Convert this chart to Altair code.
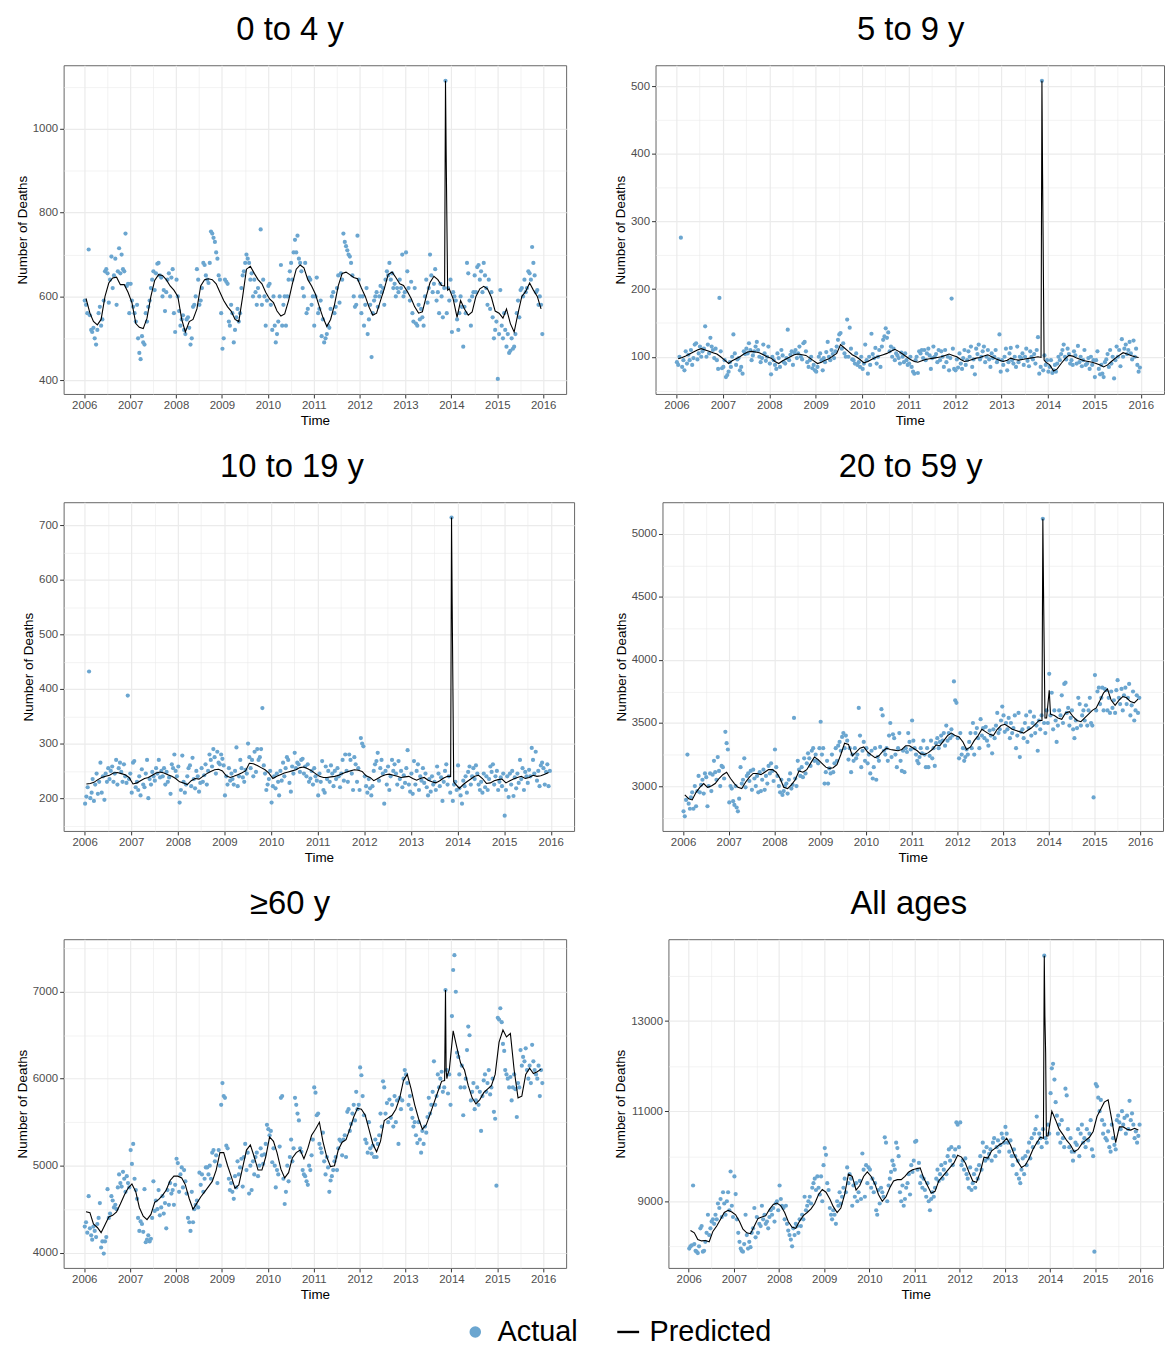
import altair as alt
import pandas as pd

BLUE = "#6BA6D0"
FONT = "Liberation Sans"

TITLES = ["0 to 4 y", "5 to 9 y", "10 to 19 y", "20 to 59 y", "\u226560 y", "All ages"]

# ---------------- Actual weekly deaths (3 readings per month, 2006-2015) ----------------
act_0_4 = [
    590,580,560, 712,555,520, 515,525,500, 485,520,560, 575,530,545, 590,660,665, 655,585,640, 695,620,650, 690,580,660, 715,655,700, 665,660,750, 625,630,560,
    630,590,575, 560,540,580, 500,465,450, 505,490,485, 560,540,575, 590,620,640, 660,615,655, 678,680,650, 645,600,615, 565,610,640, 655,600,645, 665,560,515,
    640,600,565, 530,545,555, 520,510,545, 550,525,485, 500,575,580, 600,665,640, 580,590,620, 680,675,650, 640,632,680, 755,750,740, 730,705,690, 650,640,560,
    475,500,640, 635,630,540, 530,580,560, 490,520,550, 570,540,560, 620,650,660, 680,700,690, 680,640,655, 600,640,610, 580,620,600, 760,580,640, 600,530,590,
    625,630,580, 520,600,530, 490,510,540, 600,675,530, 580,600,530, 600,640,660, 680,640,705, 735,705,745, 690,680,660, 620,600,680, 560,570,645, 640,580,600,
    530,600,645, 560,570,590, 505,545,490, 500,510,530, 525,570,600, 610,560,575, 620,650,585, 655,640,750, 730,720,710, 700,695,680, 650,600,575, 580,745,640,
    600,560,600, 530,580,620, 510,545,580, 455,560,590, 600,610,575, 600,625,610, 620,580,640, 660,650,680, 640,655,620, 630,600,620, 610,640,620, 700,600,610,
    705,660,620, 590,635,560, 540,620,535, 530,580,545, 570,550,530, 600,640,585, 620,700,650, 610,630,665, 590,610,560, 630,600,550, 620,1115,560, 620,590,640,
    515,610,600, 590,545,520, 560,600,575, 480,575,560, 680,655,590, 530,600,610, 650,610,670, 675,640,660, 610,680,650, 620,580,640, 570,610,550, 500,520,540,
    403,510,615, 530,500,560, 520,480,510, 465,470,500, 475,480,510, 560,590,550, 615,620,600, 640,610,620, 660,655,640, 718,680,650, 610,615,580, 600,580,510,
]
act_5_9 = [
    92,88,100, 276,85,95, 80,108,90, 103,95,110, 88,98,118, 120,96,105, 115,100,108, 112,145,100, 118,105,128, 115,110,98, 112,95,82, 187,108,83,
    85,95,70, 73,78,92, 85,100,133, 105,88,96, 98,80,85, 75,108,104, 112,105,120, 110,95,102, 108,115,122, 110,100,92, 98,118,105, 94,100,115,
    90,74,100, 95,88,82, 105,98,85, 110,102,92, 90,98,140, 95,103,108, 88,106,110, 98,105,115, 100,96,120, 122,108,92, 85,95,100, 83,88,80,
    78,85,100, 105,95,80, 98,92,107, 122,100,95, 110,104,98, 108,115,125, 133,135,112, 120,105,100, 155,100,143, 112,96,95, 90,105,88, 92,85,100,
    82,90,118, 95,75,100, 88,134,104, 98,113,90, 100,110,85, 115,125,130, 142,128,136, 108,115,100, 112,95,105, 102,98,90, 106,100,92, 105,95,88,
    90,100,85, 78,75,95, 100,76,108, 105,110,98, 110,95,105, 112,102,82, 98,115,100, 104,92,110, 95,108,100, 85,110,92, 100,80,98, 186,112,82,
    80,96,84, 105,90,82, 98,110,88, 95,108,100, 115,85,96, 74,112,104, 118,96,100, 108,115,92, 100,110,96, 85,105,98, 100,110,92, 96,133,78,
    95,88,100, 112,80,92, 105,113,95, 90,100,85, 115,92,100, 98,105,88, 100,112,94, 86,108,100, 96,104,90, 110,129,75, 85,508,80, 102,88,95,
    78,85,95, 76,80,88, 78,90,100, 95,104,110, 118,100,96, 112,104,90, 95,88,108, 102,90,116, 92,100,86, 95,110,88, 90,98,82, 100,88,95,
    70,95,108, 82,74,88, 75,70,92, 96,104,85, 110,90,100, 68,95,115, 100,110,86, 126,100,112, 118,104,110, 122,105,96, 124,100,112, 88,78,84,
]
act_10_19 = [
    190,203,220, 432,200,210, 235,195,225, 245,208,230, 265,210,240, 197,245,230, 255,235,250, 258,230,245, 270,225,255, 265,248,230, 262,240,228, 388,235,245,
    210,265,268, 220,230,215, 240,205,253, 225,220,245, 270,200,235, 225,248,240, 232,255,245, 270,238,250, 240,255,225, 248,230,238, 208,262,255, 280,250,240,
    258,192,215, 278,230,210, 225,240,255, 260,222,274, 235,218,250, 240,212,228, 255,230,242, 262,225,250, 280,270,258, 290,275,245, 285,265,262, 280,272,260,
    205,240,225, 255,232,245, 235,225,250, 293,222,240, 270,255,238, 230,252,245, 300,275,255, 270,240,285, 248,290,270, 275,290,365, 260,245,215, 225,235,250,
    192,222,240, 218,245,230, 205,250,232, 265,240,255, 275,270,228, 212,258,245, 283,255,265, 262,248,270, 272,245,258, 240,262,230, 236,250,225, 255,240,232,
    205,245,230, 268,215,210, 258,235,250, 230,260,245, 222,250,235, 255,240,220, 245,270,232, 280,250,230, 280,270,245, 215,275,262, 230,255,215, 310,300,295,
    240,222,210, 235,218,205, 222,250,262, 268,283,232, 255,270,245, 190,250,225, 258,215,240, 270,250,262, 245,225,268, 235,250,220, 242,228,255, 288,225,212,
    245,208,268, 225,250,262, 215,240,232, 255,228,245, 220,205,235, 212,240,225, 230,215,258, 245,222,238, 195,230,250, 262,225,240, 210,714,195, 225,230,215,
    260,218,205, 190,232,222, 240,210,248, 258,225,240, 255,235,260, 245,225,215, 230,210,245, 220,240,215, 235,258,248, 262,225,240, 250,215,230, 238,222,245,
    168,215,240, 202,245,225, 250,204,238, 218,245,228, 270,235,255, 215,248,240, 228,252,240, 292,270,245, 285,232,250, 222,260,265, 255,225,248, 262,222,250,
]
act_20_59 = [
    2800,2760,2890, 3250,2860,2820, 2910,2950,2820, 3000,2840,2960, 3080,2950,3010, 3050,2940,3100, 3070,2840,3000, 3100,2960,3090, 3200,3110,3050, 3230,3120,3000, 3160,3150,3060, 3430,3340,3290,
    2870,3000,2980, 2880,2850,3000, 2830,2800,2900, 3150,3020,3050, 3220,2990,3080, 3100,3040,3120, 2970,3130,3060, 3000,3080,2950, 3110,2960,3050, 3130,2970,3080, 3020,3160,3100, 3180,3120,3040,
    3290,3150,3080, 3000,2950,3050, 2930,2960,3000, 3020,2940,3050, 3100,2980,3010, 3540,3060,3000, 3200,3130,3080, 3150,3070,3220, 3100,3180,3260, 3220,3160,3280, 3300,3200,3250, 3200,3180,3300,
    3510,3250,3300, 3020,3110,3200, 3020,3140,3100, 3250,3110,3180, 3300,3200,3320, 3350,3280,3390, 3420,3300,3400, 3360,3210,3300, 3110,3250,3200, 3300,3220,3250, 3620,3400,3150, 3280,3350,3200,
    3300,3180,3250, 3100,3280,3060, 3150,3300,3050, 3230,3200,3310, 3610,3560,3280, 3250,3300,3200, 3400,3500,3230, 3410,3380,3250, 3150,3300,3420, 3200,3120,3280, 3110,3300,3270, 3420,3350,3290,
    3520,3360,3300, 3250,3200,3180, 3230,3300,3260, 3360,3250,3150, 3300,3150,3240, 3360,3220,3300, 3160,3340,3380, 3300,3350,3400, 3360,3420,3320, 3480,3360,3420, 3380,3450,3400, 3830,3680,3660,
    3380,3220,3420, 3250,3300,3200, 3230,3290,3250, 3350,3420,3300, 3500,3250,3420, 3460,3380,3300, 3530,3400,3460, 3380,3470,3360, 3320,3440,3400, 3260,3450,3380, 3480,3580,3420, 3450,3520,3630,
    3560,3430,3500, 3450,3540,3380, 3500,3420,3460, 3560,3300,3400, 3580,3230,3430, 3450,3380,3500, 3560,3350,3460, 3590,3400,3500, 3550,3420,3480, 3280,3520,3450, 3560,5120,3500, 3420,3600,3500,
    3890,3560,3740, 3450,3600,3520, 3350,3480,3600, 3560,3720,3500, 3810,3820,3580, 3620,3480,3540, 3600,3450,3380, 3520,3460,3700, 3650,3480,3560, 3600,3520,3640, 3480,3600,3700, 3500,3480,2910,
    3880,3600,3750, 3780,3650,3700, 3780,3600,3770, 3760,3600,3700, 3580,3750,3620, 3680,3580,3760, 3840,3700,3650, 3770,3600,3720, 3780,3650,3700, 3810,3560,3640, 3750,3520,3600, 3720,3580,3700,
]
act_60 = [
    4300,4350,4230, 4650,4280,4200, 4150,4300,4250, 4180,4330,4400, 4570,4060,4130, 3990,4130,4180, 4730,4400,4450, 4650,4600,4520, 4550,4500,4750, 4900,4800,4760, 4930,4850,4700, 4880,4800,4750,
    5180,5020,5250, 4850,4720,4620, 4400,4250,4360, 4330,4240,4730, 4120,4150,4200, 4130,4160,4400, 4820,4480,4600, 4500,4720,4430, 4520,4650,4450, 4570,4280,4720, 4550,4800,4680, 4720,4550,4780,
    5080,5030,4700, 4900,4980,4750, 4950,4820,4680, 4400,4350,4250, 4700,4350,4500, 4550,4600,4520, 4920,4780,4900, 4700,4850,4980, 4980,4900,5000, 4850,5150,5180, 5050,5120,4800, 5180,5000,5700,
    5950,5800,5780, 5230,5200,4850, 4720,4800,4700, 4620,4880,4750, 5050,4900,4980, 5080,4760,5100, 5250,4950,5150, 4680,5000,4720, 5050,4900,5100, 5150,4880,5000, 5200,5120,5020, 5130,5250,5470,
    5420,5350,5400, 5040,5200,5000, 4750,4950,4900, 5220,5780,5800, 4850,4560,4700, 5000,4820,5100, 5300,5050,5200, 5780,5700,5600, 5520,5200,5160, 4950,4900,4880, 4820,4780,5000, 4950,5120,5300,
    5900,5840,5580, 5600,5250,5200, 5150,5380,5050, 4900,5100,4980, 4700,4830,4880, 4950,5050,5100, 4950,5200,5300, 5280,5120,5300, 5350,5100,5620, 5650,5400,5480, 5600,5700,5520, 5850,5650,5700,
    6130,6040,5800, 5580,5300,5260, 5150,5500,5200, 5140,5230,5100, 5300,5100,5250, 5350,5600,5450, 5970,5900,5600, 5720,5500,5760, 5550,5700,5450, 5800,5500,5750, 5250,5780,5650, 5750,6000,6100,
    6050,5950,5700, 5800,5650,5550, 5450,5500,5350, 5260,5500,5300, 5150,5400,5250, 5450,5380,5560, 5780,5600,5700, 5850,6200,5700, 5800,6050,5900, 6000,6080,5850, 5900,7020,6100, 5830,6050,5700,
    6720,7250,7420, 7000,6300,6250, 6050,5900,6150, 5580,5900,6000, 6330,6600,6500, 5750,5850,5950, 5650,5750,5900, 5700,5850,5400, 5800,5980,6050, 5850,5950,6100, 5820,5900,6000, 5620,5540,4770,
    6700,6680,6810, 6650,6400,6320, 6100,6050,6000, 5900,6020,5750, 5900,6050,5880, 5560,5950,5900, 6330,6150,6250, 6200,6350,6100, 6000,6150,5950, 6390,6200,6100, 6050,6000,6150, 5800,6100,5950,
]
act_all = [
    7950,8000,8020, 9350,8050,7900, 7880,7850,8000, 8400,8450,7880, 7900,8100,8300, 8700,8250,8400, 8550,8600,8500, 8700,8600,8950, 8850,9050,8650, 9200,8950,8700, 9000,9200,8800, 9660,8900,8650,
    9550,9160,8600, 8300,8100,7950, 7900,7880,8050, 8700,8250,7950, 8100,7980,8300, 8400,8850,8200, 8650,8300,8500, 8450,8900,8600, 8700,8500,8550, 8400,8650,8800, 8700,8850,8550, 8950,9000,8800,
    9350,9050,8900, 8850,8600,8900, 8500,8350,8250, 8150,8000,8400, 8250,8500,8450, 8300,8600,8450, 8700,8600,9100, 8800,8900,9000, 9100,8950,9300, 9400,9500,9250, 9550,9300,9150, 9550,9000,9800,
    10180,10030,9400, 9250,8850,8700, 8600,8800,8700, 8500,9000,8900, 9200,8950,9100, 9300,9500,9200, 9750,9400,9600, 9500,8900,9350, 9100,9400,9000, 9200,9450,9050, 10060,9700,9100, 9800,9400,9750,
    9700,9300,9500, 9200,9400,8800, 8700,9250,8950, 9300,9200,9100, 10420,10300,9000, 9350,9500,9650, 9900,9800,9700, 10300,10180,10000, 9200,9000,9350, 8900,9050,9300, 9400,9600,9150, 9800,9650,9900,
    10320,10340,9700, 9850,9400,9550, 9300,9500,9250, 9100,9400,9000, 8800,9050,9200, 9100,9300,9500, 9700,9450,9600, 9800,9500,9700, 9850,9600,10000, 10150,9900,10200, 9800,10000,10150, 10750,10700,10200,
    10750,9800,9900, 9700,9950,9600, 9500,9300,9750, 9250,9400,9600, 9300,9700,9500, 9800,10000,9700, 10300,10100,9900, 10200,9950,10050, 10150,9900,10300, 10400,10000,10200, 10350,10100,10250, 10500,10400,10300,
    10650,10500,10300, 10100,10350,10000, 9800,10150,10000, 9600,9900,9500, 9400,9700,9950, 9600,10000,9800, 10100,10300,9950, 10400,10200,10500, 10600,10880,10300, 10500,10400,10200, 10600,14450,10400, 10300,10700,10500,
    11400,11950,12050, 11700,11200,10900, 10500,10700,10300, 10800,10400,10200, 11500,11350,10600, 10200,10400,10100, 9900,10100,10300, 10250,10600,10000, 10500,10700,10300, 10400,10200,10600, 10350,10500,10800, 10150,10000,7880,
    11600,11550,11300, 11000,11250,10800, 10500,10700,10400, 10350,10550,10200, 10100,10700,10400, 10250,10150,10800, 10900,10750,10600, 11000,10700,10850, 10500,10900,10600, 11230,10800,10950, 10700,10400,10550, 10300,10450,10700,
]

# ---------------- Predicted (monthly readings; Nov 2013 given by the spike list) ----------------
pred_0_4 = [
    595, 560, 540, 532, 545, 600, 632, 644, 646, 628, 628, 610,
    585, 535, 526, 523, 548, 600, 638, 652, 650, 640, 625, 615,
    600, 545, 515, 540, 545, 570, 625, 640, 642, 640, 630, 610,
    590, 575, 565, 545, 540, 600, 665, 672, 655, 640, 630, 610,
    594, 585, 565, 553, 558, 590, 630, 665, 675, 668, 640, 625,
    605, 575, 550, 528, 545, 580, 625, 655, 658, 652, 645, 642,
    620, 600, 575, 555, 560, 590, 618, 652, 658, 645, 630, 626,
    612, 595, 575, 560, 563, 600, 633, 648, 640, 626, None, 618,
    594, 550, 590, 570, 555, 563, 600, 618, 624, 618, 598, 565,
    560, 548, 570, 535, 515, 560, 600, 612, 632, 615, 600, 570,
]
pred_5_9 = [
    97, 99, 101, 104, 107, 110, 112, 110, 108, 106, 104, 100,
    95, 90, 94, 97, 100, 104, 107, 108, 107, 106, 103, 100,
    98, 93, 90, 94, 97, 100, 103, 104, 103, 102, 98, 94,
    90, 92, 95, 97, 101, 105, 118, 113, 108, 103, 100, 96,
    91, 93, 96, 99, 101, 103, 105, 108, 111, 108, 104, 100,
    96, 93, 92, 94, 96, 97, 98, 99, 100, 102, 104, 102,
    100, 96, 93, 94, 96, 98, 99, 101, 103, 100, 97, 95,
    93, 95, 98, 96, 95, 96, 97, 98, 99, 100, None, 92,
    88, 79, 82, 90, 97, 102, 101, 98, 96, 94, 93, 92,
    90, 88, 85, 88, 93, 98, 102, 106, 104, 102, 100, 99,
]
pred_10_19 = [
    226, 227, 229, 234, 238, 240, 242, 246, 247, 245, 243, 238,
    226, 228, 232, 236, 238, 242, 246, 248, 246, 243, 240, 236,
    230, 228, 225, 232, 236, 235, 240, 245, 249, 252, 253, 250,
    241, 238, 240, 243, 246, 250, 264, 263, 260, 256, 252, 246,
    236, 240, 243, 246, 248, 250, 252, 256, 257, 254, 250, 245,
    240, 238, 238, 239, 240, 242, 245, 248, 250, 252, 251, 249,
    241, 238, 232, 236, 240, 243, 244, 242, 240, 238, 239, 240,
    236, 233, 236, 238, 233, 230, 228, 232, 237, 240, None, 226,
    218, 225, 230, 235, 240, 242, 236, 227, 228, 232, 234, 235,
    228, 232, 235, 238, 240, 236, 238, 242, 240, 241, 244, 247,
]
pred_20_59 = [
    2930, 2900, 2890, 2950, 2990, 3020, 2990, 3000, 3020, 3060, 3090, 3110,
    3060, 3020, 2990, 2980, 3030, 3070, 3100, 3100, 3090, 3110, 3130, 3130,
    3110, 3060, 2990, 2980, 3010, 3050, 3120, 3110, 3130, 3180, 3230, 3210,
    3180, 3150, 3140, 3145, 3170, 3250, 3340, 3330, 3240, 3270, 3300, 3310,
    3270, 3245, 3225, 3240, 3275, 3300, 3290, 3285, 3280, 3290, 3320, 3320,
    3300, 3280, 3255, 3250, 3265, 3290, 3325, 3320, 3360, 3400, 3420, 3400,
    3390, 3350, 3290, 3310, 3360, 3400, 3450, 3430, 3410, 3400, 3450, 3480,
    3490, 3470, 3450, 3440, 3430, 3420, 3440, 3460, 3490, 3520, None, 3540,
    3570, 3560, 3540, 3530, 3580, 3590, 3550, 3520, 3510, 3540, 3570, 3600,
    3620, 3680, 3740, 3770, 3680, 3640, 3680, 3710, 3700, 3670, 3660, 3690,
]
pred_60 = [
    4470, 4460, 4330, 4290, 4230, 4320, 4410, 4430, 4470, 4560, 4660, 4740,
    4790, 4700, 4520, 4420, 4380, 4440, 4580, 4610, 4660, 4720, 4830, 4880,
    4880, 4860, 4780, 4620, 4500, 4570, 4640, 4700, 4760, 4820, 4950, 5150,
    5150, 5000, 4880, 4740, 4780, 4980, 5180, 5240, 5100, 4950, 4950, 5100,
    5330, 5280, 5150, 4960, 4860, 4920, 5090, 5150, 5180, 5080, 5200, 5350,
    5420, 5500, 5280, 5100, 4990, 5000, 5180, 5270, 5300, 5420, 5560, 5660,
    5650, 5580, 5420, 5250, 5160, 5280, 5520, 5550, 5580, 5650, 5780, 5980,
    6050, 5880, 5700, 5540, 5420, 5470, 5590, 5720, 5850, 5970, None, 6100,
    6550, 6350, 6180, 6100, 5920, 5780, 5710, 5760, 5840, 5880, 5920, 6050,
    6420, 6560, 6480, 6520, 6100, 5780, 5800, 6050, 6120, 6060, 6080, 6110,
]
pred_all = [
    8350, 8300, 8150, 8120, 8130, 8100, 8330, 8450, 8600, 8750, 8800, 8760,
    8700, 8550, 8380, 8300, 8280, 8450, 8620, 8650, 8680, 8820, 8930, 8960,
    8900, 8750, 8550, 8420, 8400, 8560, 8680, 8750, 8830, 8950, 9150, 9260,
    9200, 9050, 8880, 8750, 8850, 9150, 9600, 9550, 9250, 9350, 9550, 9650,
    9550, 9380, 9150, 9000, 9100, 9300, 9450, 9480, 9480, 9550, 9650, 9700,
    9720, 9740, 9520, 9350, 9180, 9220, 9450, 9550, 9650, 9750, 9850, 10020,
    9980, 9850, 9650, 9450, 9420, 9650, 9980, 9960, 10120, 10180, 10250, 10300,
    10400, 10250, 10050, 9880, 9750, 9800, 9950, 10150, 10300, 10420, None, 10450,
    11000, 10800, 10600, 10480, 10350, 10250, 10100, 10150, 10280, 10350, 10420, 10550,
    10880, 11050, 11200, 11250, 10800, 10300, 10650, 10650, 10600, 10580, 10620, 10580,
]

# Predicted values around the Nov 2013 spike
SPIKE_DATES = ["2013-11-08", "2013-11-15", "2013-11-20", "2013-11-26", "2013-12-02"]
spike_0_4 = [625, 1115, 950, 780, 615]
spike_5_9 = [99, 508, 370, 233, 95]
spike_10_19 = [240, 714, 555, 395, 230]
spike_20_59 = [3520, 5120, 4590, 4050, 3540]
spike_60 = [5980, 7020, 6100, 6000, 6050]
spike_all = [10400, 14450, 13100, 12300, 10450]
extra_20_59 = (["2014-01-05"], [3760])

months = pd.date_range("2006-01-01", periods=120, freq="MS")
act_dates = pd.DatetimeIndex([m + pd.Timedelta(days=d) for m in months for d in (4, 14, 24)])
pred_dates = months + pd.Timedelta(days=14)


def to_year(idx):
    idx = pd.DatetimeIndex(idx)
    return list(idx.year + (idx.dayofyear - 1) / 365.0)


X_VALS = [2006 + 0.5 * i for i in range(21)]

leg_act = alt.Legend(title=None, orient="none", legendX=400, legendY=1261,
                     symbolType="circle", symbolSize=135, symbolStrokeWidth=0,
                     labelFontSize=29, labelFont=FONT, labelColor="black",
                     labelOffset=8, padding=0)
leg_pred = alt.Legend(title=None, orient="none", legendX=554, legendY=1261,
                      symbolType="stroke", symbolSize=484, symbolStrokeWidth=2.4,
                      labelFontSize=29, labelFont=FONT, labelColor="black",
                      labelOffset=7, padding=0)


def panel(title, act, pred, spike, extra, ydom, yvals, base, step, width, dx):
    adf = pd.DataFrame({"t": to_year(act_dates), "value": act})
    adf["series"] = "Actual"
    frames = [pd.DataFrame({"t": to_year(pred_dates), "value": pred}).dropna(),
              pd.DataFrame({"t": to_year(pd.to_datetime(SPIKE_DATES)), "value": spike})]
    if extra is not None:
        frames.append(pd.DataFrame({"t": to_year(pd.to_datetime(extra[0])), "value": extra[1]}))
    pdf = pd.concat(frames).sort_values("t").reset_index(drop=True)
    pdf["series"] = "Predicted"

    minor_y = f"(datum.value - {base}) % {step} !== 0"
    x = alt.X("t:Q", title="Time",
              scale=alt.Scale(domain=[2005.55, 2016.5], nice=False, zero=False),
              axis=alt.Axis(values=X_VALS, labelOverlap=False,
                            labelExpr="datum.value % 1 === 0 ? format(datum.value, 'd') : ''",
                            tickOpacity={"condition": {"test": "datum.value % 1 !== 0", "value": 0}, "value": 1},
                            gridWidth={"condition": {"test": "datum.value % 1 !== 0", "value": 0.6}, "value": 1.2}))
    y = alt.Y("value:Q", title="Number of Deaths",
              scale=alt.Scale(domain=ydom, nice=False, zero=False),
              axis=alt.Axis(values=yvals, format="d", labelOverlap=False,
                            labelExpr=f"{minor_y} ? '' : datum.label",
                            tickOpacity={"condition": {"test": minor_y, "value": 0}, "value": 1},
                            gridWidth={"condition": {"test": minor_y, "value": 0.6}, "value": 1.2}))
    pts = alt.Chart(adf).mark_circle(size=18, opacity=1).encode(
        x=x, y=y,
        fill=alt.Fill("series:N", scale=alt.Scale(domain=["Actual"], range=[BLUE]), legend=leg_act))
    line = alt.Chart(pdf).mark_line(strokeWidth=1.1).encode(
        x=x, y=y,
        stroke=alt.Stroke("series:N", scale=alt.Scale(domain=["Predicted"], range=["black"]), legend=leg_pred))
    return alt.layer(pts, line).properties(
        width=width, height=331,
        title=alt.TitleParams(title, fontSize=33, font=FONT, fontWeight="normal", color="black",
                              anchor="middle", frame="group", dx=dx, offset=18))


p1 = panel(TITLES[0], act_0_4, pred_0_4, spike_0_4, None, [367, 1152], list(range(400, 1101, 100)), 400, 200, 506, -25)
p2 = panel(TITLES[1], act_5_9, pred_5_9, spike_5_9, None, [45, 531], list(range(50, 501, 50)), 100, 100, 512, 1)
p3 = panel(TITLES[2], act_10_19, pred_10_19, spike_10_19, None, [140, 742], list(range(150, 701, 50)), 200, 100, 514, -27)
p4 = panel(TITLES[3], act_20_59, pred_20_59, spike_20_59, extra_20_59, [2644, 5251], list(range(2750, 5001, 250)), 3000, 500, 504, -2)
p5 = panel(TITLES[4], act_60, pred_60, spike_60, None, [3825, 7604], list(range(4000, 7501, 500)), 4000, 1000, 506, -25)
p6 = panel(TITLES[5], act_all, pred_all, spike_all, None, [7520, 14817], list(range(8000, 14001, 1000)), 9000, 2000, 498, -7)

chart = alt.concat(
    p1, p2, p3, p4, p5, p6,
    columns=2, align="none", spacing={"row": 23, "column": 38},
).properties(
    padding={"left": 6, "top": 1, "right": 0, "bottom": -3}
).configure(font=FONT).configure_view(
    stroke="#666666", strokeWidth=1
).configure_axis(
    domain=False, grid=True, gridColor="#EBEBEB", tickColor="#333333", tickSize=4, tickWidth=1,
    labelFontSize=11.5, labelColor="#4D4D4D", labelFont=FONT,
    titleFont=FONT, titleFontSize=13.5, titleFontWeight="normal", titleColor="black",
).configure_axisX(labelPadding=1.5, titlePadding=3).configure_axisY(labelPadding=2, titlePadding=3, minExtent=0)

chart.save("out.html", embed_options={"renderer": "svg", "actions": False})
